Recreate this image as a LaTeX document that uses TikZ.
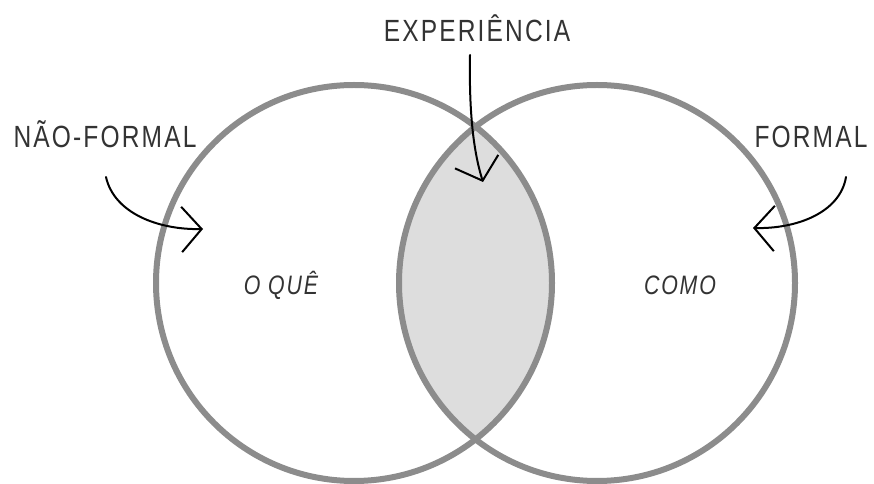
\documentclass[tikz,border=0pt]{standalone}
\usepackage{fontspec}
\usetikzlibrary{arrows.meta}
\newfontfamily\vennfont{Liberation Sans}[FakeStretch=0.8,LetterSpace=7]
\definecolor{ringgray}{RGB}{140,140,140}
\definecolor{lensgray}{RGB}{221,221,221}
\definecolor{inkgray}{RGB}{51,51,51}

\tikzset{every picture/.style={line width=0.75pt},
  ring/.style={draw=ringgray,line width=4.5},
  bigcap/.style={font=\vennfont\fontsize{23}{23}\selectfont,text=inkgray,inner sep=0.75pt,anchor=base},
  smallcap/.style={font=\vennfont\itshape\fontsize{20}{20}\selectfont,text=inkgray,inner sep=0.75pt,anchor=base},
  pointer/.style={draw=black,line width=1.5,line cap=round,-{Straight Barb[length=15pt,width=34pt]}}
}

\begin{document}
\begin{tikzpicture}[x=0.75pt,y=0.75pt,yscale=-1,xscale=1]
\fill[white] (0,0) rectangle (874,484);
\useasboundingbox (0,0) rectangle (874,484);

%Centres of the two rings
\coordinate (left) at (354,283);
\coordinate (right) at (597,283);

%Shape: Lens (intersection)
\begin{scope}
\clip (left) circle [radius=198];
\fill[lensgray] (right) circle [radius=198];
\end{scope}

%Shape: Circles
\draw[ring] (left) circle [radius=198];
\draw[ring] (right) circle [radius=198];

% Text Node
\node[bigcap] (exper) at (477,42) {EXPERIÊNCIA};
% Text Node
\node[bigcap] (naoformal) at (105,148) {NÃO-FORMAL};
% Text Node
\node[bigcap] (formal) at (811,148) {FORMAL};
% Text Node
\node[smallcap] (oque) at (281,295) {O QUÊ};
% Text Node
\node[smallcap] (como) at (680,295) {COMO};

%Arrow ends
\coordinate (experStart) at (470,55);
\coordinate (experTip) at (483,182);
\coordinate (nfStart) at (106,177);
\coordinate (nfTip) at (203,229);
\coordinate (fStart) at (846,177);
\coordinate (fTip) at (753,228);

%Curved arrows
\draw[pointer] (experStart) .. controls (469,110) and (473,150) .. (experTip);
\draw[pointer] (nfStart) .. controls (114,213) and (158,230) .. (nfTip);
\draw[pointer] (fStart) .. controls (840,213) and (796,229) .. (fTip);

\end{tikzpicture}
\end{document}
